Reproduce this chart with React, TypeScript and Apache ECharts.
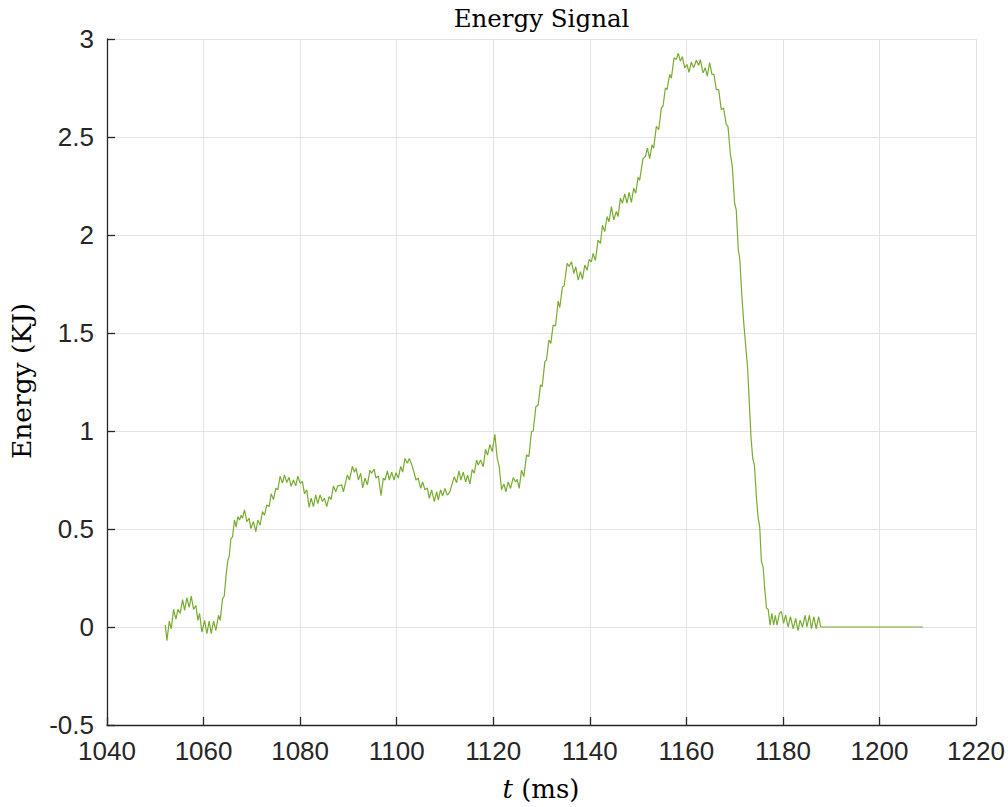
import React, { useEffect, useRef } from "react";
import * as echarts from "echarts";

const TITLE = "Energy Signal";
const X_LABEL_ITALIC = "t";
const X_LABEL_REST = " (ms)";
const Y_LABEL = "Energy (KJ)";

const X_MIN = 1040;
const X_MAX = 1220;
const X_STEP = 20;
const Y_MIN = -0.5;
const Y_MAX = 3;
const Y_STEP = 0.5;

// [time (ms), energy (KJ)]
const startPhase: number[][] = [
  [1052.07, 0.01], [1052.41, -0.07], [1052.9, 0.03], [1053.31, -0.01], [1053.79, 0.09],
  [1054.28, 0.04], [1054.69, 0.09], [1055.17, 0.07], [1055.66, 0.14], [1056.07, 0.085],
  [1056.55, 0.15], [1057.03, 0.1], [1057.45, 0.157], [1057.93, 0.09], [1058.41, 0.11],
  [1058.83, 0.034], [1059.17, 0.07], [1059.66, -0.026], [1060.21, 0.034], [1060.69, -0.034],
  [1061.17, 0.03], [1061.59, -0.034], [1062.07, 0.03], [1062.55, -0.017], [1063.1, 0.06],
  [1063.45, 0.034],
];

const firstRise: number[][] = [
  [1063.93, 0.145], [1064.28, 0.157], [1064.69, 0.27], [1065.03, 0.34], [1065.31, 0.36],
  [1065.66, 0.45], [1066.0, 0.46], [1066.41, 0.546], [1066.76, 0.51], [1067.1, 0.563],
  [1067.45, 0.546], [1067.79, 0.57], [1068.07, 0.555], [1068.48, 0.597], [1068.97, 0.538],
  [1069.45, 0.555], [1069.79, 0.503], [1070.34, 0.538], [1070.83, 0.486], [1071.24, 0.546],
  [1071.72, 0.52], [1072.21, 0.589], [1072.62, 0.57], [1073.1, 0.623], [1073.59, 0.614],
  [1074.0, 0.68], [1074.48, 0.65], [1074.97, 0.708], [1075.38, 0.7], [1075.86, 0.77],
  [1076.34, 0.734], [1076.76, 0.776], [1077.24, 0.737], [1077.72, 0.764], [1078.14, 0.717],
  [1078.62, 0.75], [1079.1, 0.72], [1079.52, 0.77], [1080.0, 0.734], [1080.48, 0.742],
  [1080.9, 0.68], [1081.38, 0.7], [1081.86, 0.61], [1082.28, 0.657], [1082.76, 0.614],
  [1083.24, 0.674], [1083.66, 0.63], [1084.14, 0.674], [1084.62, 0.64], [1085.03, 0.657],
  [1085.52, 0.614], [1086.0, 0.665], [1086.41, 0.65], [1086.9, 0.72], [1087.38, 0.69],
  [1087.79, 0.72],
];

const plateau: number[][] = [
  [1088.62, 0.725], [1088.97, 0.69], [1089.79, 0.776], [1090.21, 0.75], [1090.83, 0.82],
  [1091.24, 0.79], [1091.59, 0.81], [1092.07, 0.75], [1092.55, 0.784], [1092.97, 0.71],
  [1093.45, 0.76], [1093.93, 0.725], [1094.48, 0.8], [1094.83, 0.784], [1095.31, 0.806],
  [1095.72, 0.76], [1096.21, 0.77], [1096.76, 0.67], [1097.24, 0.76], [1097.59, 0.75],
  [1098.07, 0.796], [1098.48, 0.75], [1098.97, 0.79], [1099.45, 0.75], [1099.86, 0.787],
  [1100.34, 0.76], [1100.83, 0.82], [1101.24, 0.79], [1101.72, 0.86], [1102.21, 0.835],
  [1102.62, 0.86], [1103.1, 0.83], [1103.59, 0.79], [1104.0, 0.75], [1104.48, 0.76],
  [1104.97, 0.707], [1105.38, 0.74], [1105.86, 0.7], [1106.34, 0.71], [1106.76, 0.656],
  [1107.24, 0.7], [1107.79, 0.64], [1108.28, 0.69], [1108.62, 0.648], [1109.1, 0.7],
  [1109.52, 0.668], [1110.0, 0.707], [1110.48, 0.673], [1111.03, 0.69], [1111.52, 0.733],
  [1111.93, 0.767], [1112.41, 0.736], [1112.9, 0.796], [1113.31, 0.75], [1113.79, 0.79],
  [1114.28, 0.74], [1114.69, 0.775], [1115.17, 0.73], [1115.66, 0.804], [1116.07, 0.784],
  [1116.55, 0.852], [1116.9, 0.826], [1117.38, 0.852], [1117.93, 0.818], [1118.41, 0.906],
  [1118.83, 0.877], [1119.31, 0.93], [1119.79, 0.895], [1120.34, 0.983],
];

const dipAndClimb: number[][] = [
  [1120.83, 0.86], [1121.24, 0.818], [1121.72, 0.7], [1122.21, 0.73], [1122.62, 0.69],
  [1123.1, 0.74], [1123.59, 0.707], [1124.14, 0.762], [1124.62, 0.74], [1124.97, 0.753],
  [1125.38, 0.707], [1125.86, 0.8], [1126.34, 0.767], [1126.9, 0.878], [1127.38, 0.87],
  [1127.93, 0.997], [1128.28, 1.0], [1128.83, 1.124], [1129.31, 1.133], [1129.79, 1.235],
  [1130.14, 1.226], [1130.69, 1.354], [1131.03, 1.362], [1131.52, 1.464], [1131.93, 1.447],
  [1132.41, 1.54], [1132.9, 1.536], [1133.45, 1.663], [1133.79, 1.63], [1134.34, 1.736],
  [1134.69, 1.74], [1135.31, 1.855], [1135.72, 1.84], [1136.21, 1.864], [1136.69, 1.804],
  [1137.1, 1.838], [1137.59, 1.77], [1138.07, 1.813], [1138.48, 1.774], [1138.97, 1.847],
];

const peakPhase: number[][] = [
  [1139.45, 1.82], [1139.86, 1.875], [1140.34, 1.863], [1140.69, 1.906], [1141.17, 1.87],
  [1141.72, 1.974], [1142.21, 1.957], [1142.62, 2.05], [1143.1, 2.017], [1143.59, 2.094],
  [1144.0, 2.068], [1144.48, 2.145], [1144.97, 2.077], [1145.52, 2.12], [1145.86, 2.094],
  [1146.34, 2.188], [1146.76, 2.162], [1147.24, 2.21], [1147.72, 2.162], [1148.14, 2.217],
  [1148.62, 2.166], [1149.1, 2.239], [1149.52, 2.213], [1150.0, 2.294], [1150.34, 2.28],
  [1151.03, 2.39], [1151.52, 2.4], [1151.93, 2.443], [1152.41, 2.39], [1152.9, 2.46],
  [1153.24, 2.443], [1153.79, 2.555], [1154.28, 2.537], [1154.83, 2.65], [1155.17, 2.657],
  [1155.66, 2.75], [1156.0, 2.742], [1156.55, 2.82], [1156.9, 2.8], [1157.45, 2.904],
  [1157.93, 2.896], [1158.34, 2.927], [1158.76, 2.887], [1159.17, 2.91], [1159.66, 2.853],
  [1160.14, 2.87], [1160.55, 2.83], [1161.03, 2.882], [1161.52, 2.853], [1162.07, 2.892],
  [1162.55, 2.865], [1162.9, 2.895], [1163.45, 2.827], [1163.93, 2.853], [1164.34, 2.81],
  [1164.83, 2.88], [1165.31, 2.82], [1165.72, 2.82], [1166.21, 2.742], [1166.69, 2.742],
  [1167.24, 2.64], [1167.72, 2.648], [1168.28, 2.563], [1168.62, 2.555], [1169.1, 2.418],
];

const fallPhase: number[][] = [
  [1169.52, 2.35], [1170.0, 2.162], [1170.34, 2.128], [1170.75, 1.93], [1171.1, 1.87],
  [1171.5, 1.69], [1171.9, 1.55], [1172.7, 1.318], [1173.05, 1.142], [1173.4, 0.967],
  [1173.75, 0.861], [1174.1, 0.826], [1174.5, 0.668], [1174.85, 0.562], [1175.2, 0.51],
  [1175.55, 0.334], [1175.9, 0.308], [1176.25, 0.193], [1176.6, 0.097], [1176.95, 0.091],
  [1177.35, 0.009],
];

const tailPhase: number[][] = [
  [1177.72, 0.07], [1178.08, 0.009], [1178.43, 0.06], [1178.79, 0.009], [1179.29, 0.07],
  [1179.71, 0.079], [1180.14, 0.018], [1180.57, 0.06], [1181.07, 0], [1181.57, 0.053],
  [1182.14, -0.009], [1182.64, 0.044], [1183.14, -0.018], [1183.56, 0.035], [1184.06, 0],
  [1184.63, 0.06], [1184.99, 0], [1185.49, 0.06], [1185.92, -0.009], [1186.41, 0.053],
  [1186.91, -0.009], [1187.41, 0.053], [1187.84, 0], [1188.2, 0], [1209.0, 0],
];

const signal = [
  ...startPhase, ...firstRise, ...plateau, ...dipAndClimb, ...peakPhase, ...fallPhase, ...tailPhase,
];

const AXIS_COLOR = "#262626";
const GRID_COLOR = "#e3e3e3";
const LINE_COLOR = "#77AC30";

export default function App() {
  const ref = useRef<HTMLDivElement>(null);

  useEffect(() => {
    if (!ref.current) return;
    const chart = echarts.init(ref.current, null, { renderer: "svg" });
    const axisCommon = {
      type: "value",
      axisLine: { show: true, onZero: false, lineStyle: { color: AXIS_COLOR, width: 1.3 } },
      axisTick: { show: true, inside: true, length: 8, lineStyle: { color: AXIS_COLOR, width: 1.3 } },
      splitLine: { show: true, lineStyle: { color: GRID_COLOR, width: 1 } },
    };
    chart.setOption({
      animation: false,
      backgroundColor: "#ffffff",
      grid: { left: 107, right: 32, top: 39, bottom: 82, containLabel: false, outerBoundsMode: "none" },
      xAxis: {
        ...axisCommon,
        min: X_MIN,
        max: X_MAX,
        interval: X_STEP,
        axisLabel: {
          color: AXIS_COLOR,
          fontFamily: "Liberation Sans",
          fontSize: 26,
          margin: 13,
          showMinLabel: true,
          showMaxLabel: true,
          formatter: (v: number) => String(v),
        },
      },
      yAxis: {
        ...axisCommon,
        min: Y_MIN,
        max: Y_MAX,
        interval: Y_STEP,
        axisLabel: {
          color: AXIS_COLOR,
          fontFamily: "Liberation Sans",
          fontSize: 26,
          margin: 13,
          showMinLabel: true,
          showMaxLabel: true,
          formatter: (v: number) => String(v),
        },
      },
      graphic: [
        {
          type: "text",
          x: 541.5,
          y: 18,
          style: {
            text: TITLE,
            fill: "#000",
            font: '24.5px "DejaVu Serif"',
            textAlign: "center",
            textVerticalAlign: "middle",
          },
        },
        {
          type: "text",
          x: 21,
          y: 381,
          rotation: Math.PI / 2,
          style: {
            text: Y_LABEL,
            fill: "#000",
            font: '26.5px "DejaVu Serif"',
            textAlign: "center",
            textVerticalAlign: "middle",
          },
        },
        {
          type: "text",
          x: 541,
          y: 789,
          style: {
            text: "{i|" + X_LABEL_ITALIC + "}{r|" + X_LABEL_REST + "}",
            fill: "#000",
            font: '26px "DejaVu Serif"',
            textAlign: "center",
            textVerticalAlign: "middle",
            rich: {
              i: { fontFamily: "DejaVu Serif", fontSize: 26, fontStyle: "italic", fill: "#000" },
              r: { fontFamily: "DejaVu Serif", fontSize: 26, fill: "#000" },
            },
          },
        },
      ],
      series: [
        {
          type: "line",
          data: signal,
          showSymbol: false,
          symbol: "none",
          smooth: false,
          lineStyle: { color: LINE_COLOR, width: 1.2 },
          itemStyle: { color: LINE_COLOR },
        },
      ],
    });
    return () => chart.dispose();
  }, []);

  return (
    <div
      ref={ref}
      style={{ position: "fixed", left: 0, top: 0, width: 1008, height: 807, background: "#fff" }}
    />
  );
}
